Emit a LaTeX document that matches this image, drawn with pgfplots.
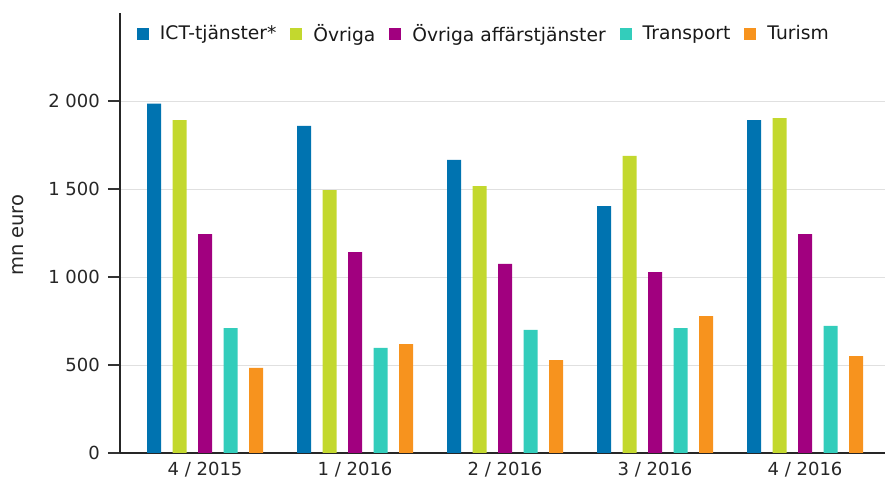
\documentclass[border=0pt]{standalone}
\usepackage{fontspec}
\setmainfont{DejaVu Sans}
\usepackage{pgfplots}
\pgfplotsset{compat=1.18}
\definecolor{cICT}{HTML}{0073B0}
\definecolor{cOvr}{HTML}{C3D82E}
\definecolor{cOA}{HTML}{A1007F}
\definecolor{cTr}{HTML}{33CDBB}
\definecolor{cTu}{HTML}{F7931E}
\begin{document}
\fontsize{18bp}{21bp}\selectfont
\begin{tikzpicture}
\begin{axis}[
  at={(0,0)}, anchor=south west,
  scale only axis, width=765bp, height=440bp,
  ybar, bar width=0.093,
  xmin=-0.567, xmax=4.533,
  ymin=0, ymax=2500,
  xtick={0,1,2,3,4},
  xticklabels={4 / 2015, 1 / 2016, 2 / 2016, 3 / 2016, 4 / 2016},
  x tick style={draw=none},
  ytick={0,500,1000,1500,2000},
  y tick style={black!80, line width=1.2pt},
  tick align=outside, major tick length=12bp,
  ytick pos=left,
  axis x line*=bottom, axis y line*=left,
  axis line style={black!85, line width=1.3pt},
  ymajorgrids, grid style={black!12, line width=1pt},
  /pgf/number format/assume math mode=true,
  /pgf/number format/1000 sep={\ },
  tick label style={font=\fontsize{18bp}{21bp}\selectfont, text=black!85},
  yticklabel style={xshift=-2bp},
  xticklabel style={yshift=9bp},
  ylabel={mn euro},
  every axis y label/.style={at={(axis description cs:-0.1333,0.495)}, rotate=90, anchor=center, font=\fontsize{19.5bp}{22bp}\selectfont, text=black!85},
  legend columns=5,
  legend style={at={(axis description cs:0.018,0.98)}, anchor=north west, draw=none, fill=none,
    font=\fontsize{18.7bp}{22bp}\selectfont, text=black!90,
    nodes={inner sep=0pt},
    /tikz/every odd column/.style={column sep=11bp},
    /tikz/every even column/.style={column sep=14bp}},
  legend image code/.code={\fill[#1] (0bp,-6bp) rectangle (12bp,6bp);},
]
\addplot[fill=cICT, draw=none, bar shift=-0.34] coordinates {(0,1985) (1,1858) (2,1665) (3,1403) (4,1892)};
\addplot[fill=cOvr, draw=none, bar shift=-0.17] coordinates {(0,1892) (1,1494) (2,1517) (3,1688) (4,1903)};
\addplot[fill=cOA, draw=none, bar shift=0] coordinates {(0,1244) (1,1142) (2,1074) (3,1028) (4,1244)};
\addplot[fill=cTr, draw=none, bar shift=0.17] coordinates {(0,710) (1,597) (2,699) (3,710) (4,722)};
\addplot[fill=cTu, draw=none, bar shift=0.34] coordinates {(0,483) (1,619) (2,528) (3,778) (4,551)};
\legend{ICT-tjänster*, Övriga, Övriga affärstjänster, Transport, Turism}
\end{axis}
\pgfresetboundingbox
\useasboundingbox (-120bp,-33bp) rectangle (765bp,453bp);
\end{tikzpicture}
\end{document}
